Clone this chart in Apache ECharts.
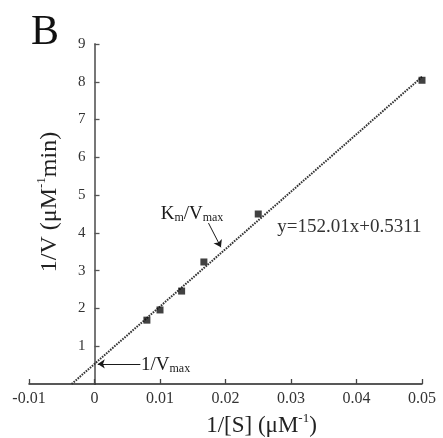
<!DOCTYPE html>
<html>
<head>
<meta charset="utf-8">
<script src="https://cdn.jsdelivr.net/npm/echarts@6/dist/echarts.min.js"></script>
<style>
  html, body { margin: 0; padding: 0; background: #fff; }
  #chart { width: 443px; height: 438px; }
</style>
</head>
<body>
<div id="chart"></div>
<script>
// Lineweaver–Burk plot: 1/V against 1/[S]
const invS = [0.008, 0.010, 0.0133, 0.0167, 0.025, 0.050];
const invV = [1.69, 1.96, 2.46, 3.23, 4.50, 8.04];

// Linear fit y = slope * x + intercept, as printed on the plot
const slope = 152.01;
const intercept = 0.5311;
const fitLabel = 'y=152.01x+0.5311';

const xTicks = { min: -0.01, max: 0.05, step: 0.01 };
const yTicks = { min: 0, max: 9, step: 1 };

const serif = '"Liberation Serif", "Times New Roman", serif';
const ink = '#1a1a1a';

const W = 443, H = 438;
const grid = { left: 29, right: 21, top: 44, bottom: 54 };

// the y axis sits at x = 0, inside the plot area
const yAxisShift = (W - grid.left - grid.right) *
  (0 - xTicks.min) / (xTicks.max - xTicks.min);

// fit line runs from its x-intercept up to the last measured point
const xIntercept = -intercept / slope;
const fitEnd = invS[invS.length - 1];
const fitLine = [
  [xIntercept, 0],
  [fitEnd, slope * fitEnd + intercept]
];

const chart = echarts.init(document.getElementById('chart'), null, { renderer: 'canvas' });

const subRich = {
  n: { fontFamily: serif, fontSize: 19, color: ink, verticalAlign: 'bottom', lineHeight: 21 },
  s: { fontFamily: serif, fontSize: 12, color: ink, verticalAlign: 'bottom', lineHeight: 15 }
};

chart.setOption({
  animation: false,
  backgroundColor: '#fff',
  grid: Object.assign({ outerBoundsMode: 'none', containLabel: false }, grid),
  xAxis: {
    type: 'value',
    min: xTicks.min,
    max: xTicks.max,
    interval: xTicks.step,
    splitLine: { show: false },
    axisLine: { onZero: false, lineStyle: { color: '#222', width: 1.5 } },
    axisTick: { inside: true, length: 5, lineStyle: { color: '#444', width: 1.3 } },
    axisLabel: {
      margin: 7,
      fontFamily: serif,
      fontSize: 16,
      color: '#333',
      formatter: v => (Math.abs(v) < 1e-9 ? '0' : v.toFixed(2))
    },
    name: '{a|1/[S] (μM}{b|-1}{a|)}',
    nameLocation: 'middle',
    nameGap: 26,
    nameTextStyle: {
      padding: [0, 0, 0, 72],
      rich: {
        a: { fontFamily: serif, fontSize: 23, color: '#222', verticalAlign: 'bottom', lineHeight: 26 },
        b: { fontFamily: serif, fontSize: 13, color: '#222', verticalAlign: 'top', lineHeight: 26 }
      }
    }
  },
  yAxis: {
    type: 'value',
    min: yTicks.min,
    max: yTicks.max,
    interval: yTicks.step,
    position: 'left',
    offset: -yAxisShift,
    splitLine: { show: false },
    axisLine: { onZero: false, lineStyle: { color: '#777', width: 2 } },
    axisTick: { inside: true, length: 5, lineStyle: { color: '#555', width: 1.3 } },
    axisLabel: {
      margin: 9,
      fontFamily: serif,
      fontSize: 15,
      color: '#333',
      showMinLabel: false
    },
    name: '{a|1/V (μM}{b|-1}{a|min)}',
    nameLocation: 'middle',
    nameRotate: 90,
    nameGap: 33,
    nameTextStyle: {
      padding: [0, 0, 0, 24],
      rich: {
        a: { fontFamily: serif, fontSize: 24, color: '#222', verticalAlign: 'bottom', lineHeight: 26 },
        b: { fontFamily: serif, fontSize: 13, color: '#222', verticalAlign: 'top', lineHeight: 26 }
      }
    }
  },
  series: [
    {
      name: 'fit',
      type: 'line',
      data: fitLine,
      symbol: 'none',
      lineStyle: { color: '#333', width: 2, type: [1.6, 1.1] },
      z: 2,
      markLine: {
        silent: true,
        symbol: ['none', 'arrow'],
        symbolSize: 7,
        label: { show: false },
        lineStyle: { color: ink, width: 1, type: 'solid' },
        data: [
          [{ coord: [0.0070, intercept] }, { coord: [0.0005, intercept] }],
          [{ coord: [0.0174, 4.26] }, { coord: [0.0193, 3.62] }]
        ]
      },
      markPoint: {
        silent: true,
        symbol: 'circle',
        symbolSize: 0,
        data: [
          {
            coord: [0.0071, intercept],
            label: {
              show: true, position: 'right', distance: 0,
              formatter: '{n|1/V}{s|max}', rich: subRich
            }
          },
          {
            coord: [0.0101, 4.52],
            label: {
              show: true, position: 'right', distance: 0,
              formatter: '{n|K}{s|m}{n|/V}{s|max}', rich: subRich
            }
          },
          {
            coord: [0.0279, 4.15],
            label: {
              show: true, position: 'right', distance: 0,
              formatter: fitLabel,
              fontFamily: serif, fontSize: 19, color: '#333'
            }
          }
        ]
      }
    },
    {
      name: 'data',
      type: 'scatter',
      data: invS.map((x, i) => [x, invV[i]]),
      symbol: 'rect',
      symbolSize: 7,
      itemStyle: { color: '#111' },
      z: 3
    }
  ],
  graphic: [
    {
      type: 'text',
      left: 31,
      top: 12,
      style: { text: 'B', fontFamily: serif, fontSize: 42, fill: '#111' }
    }
  ]
});
</script>
</body>
</html>
